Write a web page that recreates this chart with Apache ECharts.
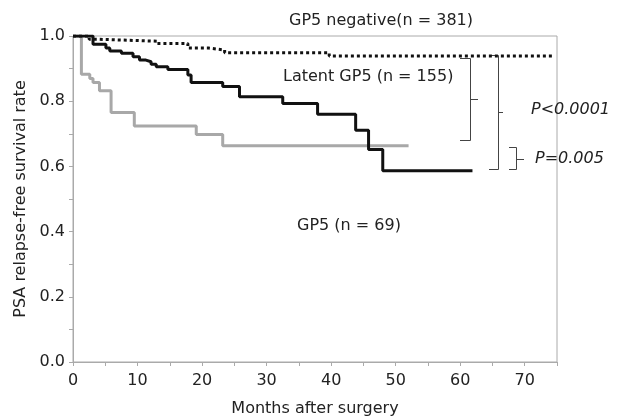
<!DOCTYPE html>
<html>
<head>
<meta charset="utf-8">
<script src="https://cdn.jsdelivr.net/npm/echarts@6/dist/echarts.min.js"></script>
<style>html,body{margin:0;padding:0;background:#fff}#c{width:617px;height:416px}</style>
</head>
<body>
<div id="c"></div>
<script>
// Kaplan-Meier curves: [months, survival] at each step
const gp5Negative = [[0,1],[2.5,0.99],[4,0.984],[13,0.977],[17.8,0.963],[21,0.957],[23.5,0.949],[39.7,0.939],[74.6,0.939]];
const latentGp5 = [[0,1],[3.1,0.975],[5.1,0.963],[5.7,0.954],[7.5,0.947],[9.3,0.936],[10.3,0.926],[11.3,0.921],[12.1,0.913],[12.9,0.906],[14.7,0.897],[17.8,0.880],[18.3,0.857],[23.2,0.845],[25.8,0.814],[32.5,0.793],[37.9,0.760],[43.8,0.711],[45.8,0.652],[48.0,0.587],[61.9,0.587]];
const gp5 = [[0,1],[1.3,0.883],[2.6,0.870],[3.1,0.857],[4.1,0.832],[5.9,0.765],[9.5,0.724],[19.1,0.698],[23.2,0.663],[52,0.663]];
const labels = {
  negative: 'GP5 negative(n = 381)',
  latent: 'Latent GP5 (n = 155)',
  gp5: 'GP5 (n = 69)',
  p1: 'P<0.0001',
  p2: 'P=0.005'
};
const xName = 'Months after surgery';
const yName = 'PSA relapse-free survival rate';

const FONT = 'DejaVu Sans';
const chart = echarts.init(document.getElementById('c'), null, {renderer: 'canvas'});
const axisColor = '#aaaaaa';
const textColor = '#222';
const txt = (t, x, y, italic) => ({type: 'text', x: x, y: y, z: 10,
  style: {text: t, font: (italic ? 'italic ' : '') + '16px "DejaVu Sans"', fill: textColor, verticalAlign: 'middle', align: 'left'}});
const br = '#444';
chart.setOption({
  animation: false,
  backgroundColor: '#fff',
  grid: {left: 73, right: 60, top: 36, bottom: 54, show: true, borderColor: axisColor, borderWidth: 1,
         containLabel: false, outerBoundsMode: 'none'},
  xAxis: {
    type: 'value', min: 0, max: 75, interval: 5,
    name: xName, nameLocation: 'middle', nameGap: 39,
    nameTextStyle: {fontFamily: FONT, fontSize: 16, color: textColor},
    axisLine: {lineStyle: {color: axisColor}},
    axisTick: {length: 4, lineStyle: {color: axisColor}},
    axisLabel: {fontFamily: FONT, fontSize: 16, color: textColor, margin: 11,
      formatter: v => (Math.round(v) % 10 === 0 && v < 75) ? String(v) : ''},
    splitLine: {show: false}
  },
  yAxis: {
    type: 'value', min: 0, max: 1, interval: 0.1,
    name: yName, nameLocation: 'middle', nameGap: 44,
    nameTextStyle: {fontFamily: FONT, fontSize: 16, color: textColor},
    axisLine: {show: true, lineStyle: {color: axisColor}},
    axisTick: {show: true, length: 4, lineStyle: {color: axisColor}},
    axisLabel: {fontFamily: FONT, fontSize: 16, color: textColor, margin: 8,
      formatter: v => (Math.round(v * 10) % 2 === 0) ? v.toFixed(1) : ''},
    splitLine: {show: false}
  },
  series: [
    {type: 'line', step: 'end', data: gp5, symbol: 'none', lineStyle: {color: '#a8a8a8', width: 3}},
    {type: 'line', step: 'end', data: gp5Negative, symbol: 'none', lineStyle: {color: '#111', width: 3, type: 'dotted'}},
    {type: 'line', step: 'end', data: latentGp5, symbol: 'none', lineStyle: {color: '#111', width: 3}}
  ],
  graphic: [
    txt(labels.negative, 289, 21),
    txt(labels.latent, 283, 77),
    txt(labels.gp5, 297, 226),
    txt(labels.p1, 531, 110, true),
    txt(labels.p2, 535, 159, true),
    // bracket 1
    {type: 'polyline', shape: {points: [[460,58.5],[470.5,58.5],[470.5,140.5],[460,140.5]]}, style: {stroke: br, lineWidth: 1, fill: null}},
    {type: 'line', shape: {x1: 470.5, y1: 99.5, x2: 478, y2: 99.5}, style: {stroke: br, lineWidth: 1}},
    // bracket 2
    {type: 'polyline', shape: {points: [[489,55.5],[498.5,55.5],[498.5,169.5],[489,169.5]]}, style: {stroke: br, lineWidth: 1, fill: null}},
    {type: 'line', shape: {x1: 498.5, y1: 112.5, x2: 503, y2: 112.5}, style: {stroke: br, lineWidth: 1}},
    // bracket 3
    {type: 'polyline', shape: {points: [[509,147.5],[516.5,147.5],[516.5,169.5],[509,169.5]]}, style: {stroke: br, lineWidth: 1, fill: null}},
    {type: 'line', shape: {x1: 516.5, y1: 159.5, x2: 524, y2: 159.5}, style: {stroke: br, lineWidth: 1}}
  ]
});
</script>
</body>
</html>
